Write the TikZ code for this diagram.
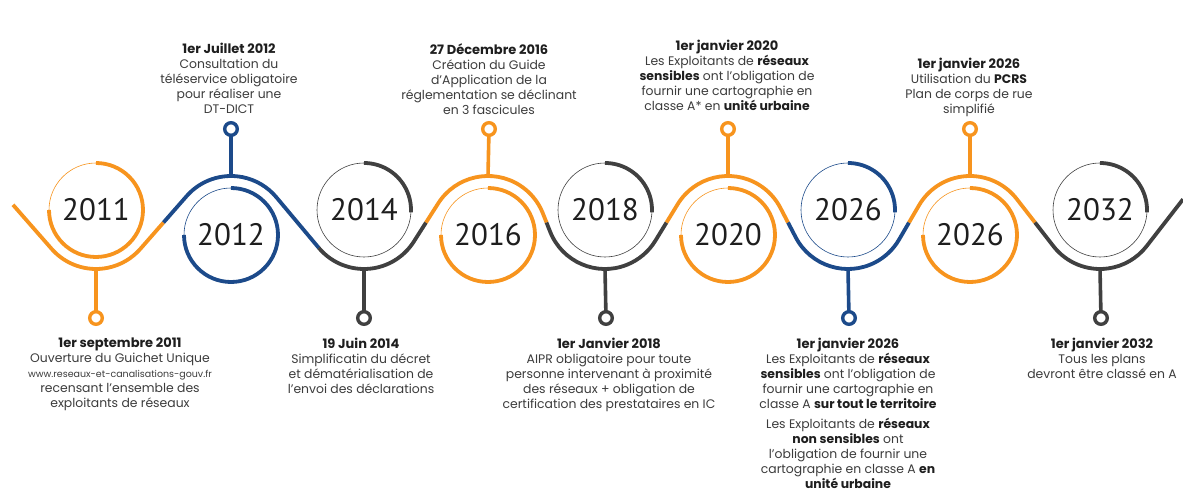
\documentclass[tikz,border=0pt]{standalone}
\usepackage{fontspec}
\setmainfont{Poppins}
\newfontfamily\yearfont{PT Sans}
\usetikzlibrary{calc}
\definecolor{tlorange}{HTML}{F7941E}
\definecolor{tlblue}{HTML}{1C4A8A}
\definecolor{tlgray}{HTML}{404040}
\definecolor{txtdark}{HTML}{1E1E1E}
\definecolor{txtbody}{HTML}{3C3C3C}

\tikzset{
  wave/.style={draw=#1, line width=3.8pt},
  yearring/.style={circle, draw=#1, line width=0.6pt, minimum size=94pt,
    inner sep=0pt, outer sep=0pt, font=\yearfont\fontsize{31}{31}\selectfont, text=txtdark},
  yeararc/.style={draw=#1, line width=3.8pt},
  stem/.style={draw=#1, line width=3.6pt},
  ringnode/.style={circle, draw=#1, fill=white, line width=3.4pt, minimum size=12.6pt,
    inner sep=0pt, outer sep=0pt},
  eventtext/.style={align=center, inner sep=0pt, text=txtbody,
    font=\fontsize{12.4}{15}\selectfont},
}
\newcommand{\ttl}[1]{{\fontsize{13}{15}\selectfont\bfseries\color{txtdark}#1}}
\newcommand{\bld}[1]{{\bfseries\color{txtdark}#1}}

\begin{document}
\begin{tikzpicture}[x=1pt,y=1pt]
\useasboundingbox[fill=white] (0,0) rectangle (1183,493);
\def\R{59}

% centres of the year circles (upper row / lower row)
\coordinate (c1) at (96,283);
\coordinate (c2) at (231,258);
\coordinate (c3) at (364,283);
\coordinate (c4) at (488,258);
\coordinate (c5) at (605,283);
\coordinate (c6) at (728,258);
\coordinate (c7) at (848,283);
\coordinate (c8) at (970,258);
\coordinate (c9) at (1100,283);

% tangent points of the wave on each circle
\coordinate (n1) at ($(c1)+(221.24:\R)$);
\coordinate (n2) at ($(c2)+(138.76:\R)$);
\coordinate (n3) at ($(c3)+(219.96:\R)$);
\coordinate (n4) at ($(c4)+(147.5:\R)$);
\coordinate (n5) at ($(c5)+(201.56:\R)$);
\coordinate (n6) at ($(c6)+(148.6:\R)$);
\coordinate (n7) at ($(c7)+(207.47:\R)$);
\coordinate (n8) at ($(c8)+(149.82:\R)$);
\coordinate (n9) at ($(c9)+(217.82:\R)$);
\coordinate (e9) at ($(c9)+(322.18:\R)$);

% colour changes along the wave
\coordinate (m12) at ($(c1)!0.5!(c2)$);
\coordinate (m34) at ($(c3)!0.5!(c4)$);
\coordinate (m45) at ($(c4)!0.5!(c5)$);
\coordinate (m56) at ($(c5)!0.5!(c6)$);
\coordinate (m67) at ($(c6)!0.5!(c7)$);
\coordinate (m78) at ($(c7)!0.5!(c8)$);
\coordinate (m89) at ($(c8)!0.5!(c9)$);
\coordinate (wstart) at ($(n1)+(131.24:58.6)$);
\coordinate (wend) at ($(e9)+(52.18:59.4)$);

% extreme points of the wave, where the stems leave
\coordinate (w1) at ($(c1)+(0,-\R)$);
\coordinate (w2) at ($(c2)+(0,\R)$);
\coordinate (w3) at ($(c3)+(0,-\R)$);
\coordinate (w4) at ($(c4)+(0,\R)$);
\coordinate (w5) at ($(c5)+(0,-\R)$);
\coordinate (w6) at ($(c6)+(0,\R)$);
\coordinate (w7) at ($(c7)+(0,-\R)$);
\coordinate (w8) at ($(c8)+(0,\R)$);
\coordinate (w9) at ($(c9)+(0,-\R)$);

% the wave
\draw[wave=tlorange] (wstart) -- (n1) arc[start angle=221.24, end angle=318.76, radius=\R] -- (m12);
\draw[wave=tlblue] (m12) -- (n2) arc[start angle=138.76, end angle=39.96, radius=\R] -- (n3);
\draw[wave=tlgray] (n3) arc[start angle=219.96, end angle=327.5, radius=\R] -- (m34);
\draw[wave=tlorange] (m34) -- (n4) arc[start angle=147.5, end angle=21.56, radius=\R] -- (m45);
\draw[wave=tlgray] (m45) -- (n5) arc[start angle=201.56, end angle=328.6, radius=\R] -- (m56);
\draw[wave=tlorange] (m56) -- (n6) arc[start angle=148.6, end angle=27.47, radius=\R] -- (m67);
\draw[wave=tlblue] (m67) -- (n7) arc[start angle=207.47, end angle=329.82, radius=\R] -- (m78);
\draw[wave=tlorange] (m78) -- (n8) arc[start angle=149.82, end angle=37.82, radius=\R] -- (m89);
\draw[wave=tlgray] (m89) -- (n9) arc[start angle=217.82, end angle=322.18, radius=\R] -- (wend);

% year circles
\node[yearring=tlorange] (y1) at (c1) {2011};
\node[yearring=tlblue]   (y2) at (c2) {2012};
\node[yearring=tlgray]   (y3) at (c3) {2014};
\node[yearring=tlorange] (y4) at (c4) {2016};
\node[yearring=tlgray]   (y5) at (c5) {2018};
\node[yearring=tlorange] (y6) at (c6) {2020};
\node[yearring=tlblue]   (y7) at (c7) {2026};
\node[yearring=tlorange] (y8) at (c8) {2026};
\node[yearring=tlgray]   (y9) at (c9) {2032};

\draw[yeararc=tlorange] (y1.north) arc[start angle=90, end angle=-180, radius=47];
\draw[yeararc=tlblue]   (y2.north) arc[start angle=90, end angle=-180, radius=47];
\draw[yeararc=tlgray]   (y3.north) arc[start angle=90, end angle=-3, radius=47];
\draw[yeararc=tlorange] (y4.north) arc[start angle=90, end angle=-180, radius=47];
\draw[yeararc=tlgray]   (y5.north) arc[start angle=90, end angle=-3, radius=47];
\draw[yeararc=tlorange] (y6.north) arc[start angle=90, end angle=-180, radius=47];
\draw[yeararc=tlblue]   (y7.north) arc[start angle=90, end angle=-3, radius=47];
\draw[yeararc=tlorange] (y8.north) arc[start angle=90, end angle=-180, radius=47];
\draw[yeararc=tlgray]   (y9.north) arc[start angle=90, end angle=-3, radius=47];

% stems with their end rings
\node[ringnode=tlorange] (p1) at (96,175) {};
\node[ringnode=tlblue]   (p2) at (231,364) {};
\node[ringnode=tlgray]   (p3) at (364,175) {};
\node[ringnode=tlorange] (p4) at (489,364) {};
\node[ringnode=tlgray]   (p5) at (606,175) {};
\node[ringnode=tlorange] (p6) at (728,364) {};
\node[ringnode=tlblue]   (p7) at (849,175) {};
\node[ringnode=tlorange] (p8) at (970,364) {};
\node[ringnode=tlgray]   (p9) at (1101,175) {};
\draw[stem=tlorange] (w1) -- (p1);
\draw[stem=tlblue]   (w2) -- (p2);
\draw[stem=tlgray]   (w3) -- (p3);
\draw[stem=tlorange] (w4) -- (p4);
\draw[stem=tlgray]   (w5) -- (p5);
\draw[stem=tlorange] (w6) -- (p6);
\draw[stem=tlblue]   (w7) -- (p7);
\draw[stem=tlorange] (w8) -- (p8);
\draw[stem=tlgray]   (w9) -- (p9);

% event texts, lower row
\node[eventtext, anchor=north] (t1) at (120,155) {\ttl{1er septembre 2011}\\
  Ouverture du Guichet Unique\\
  {\fontsize{9.5}{15}\selectfont www.reseaux-et-canalisations-gouv.fr}\\
  recensant l'ensemble des\\ exploitants de réseaux};
\node[eventtext, anchor=north] (t3) at (361,155) {\ttl{19 Juin 2014}\\
  Simplificatin du décret\\ et dématérialisation de\\ l'envoi des déclarations};
\node[eventtext, anchor=north] (t5) at (609,155) {\ttl{1er Janvier 2018}\\
  AIPR obligatoire pour toute\\ personne intervenant à proximité\\
  des réseaux + obligation de\\ certification des prestataires en IC};
\node[eventtext, anchor=north] (t7) at (848,155) {\ttl{1er janvier 2026}\\
  Les Exploitants de \bld{réseaux}\\ \bld{sensibles} ont l'obligation de\\
  fournir une cartographie en\\ classe A \bld{sur tout le territoire}\\[5pt]
  Les Exploitants de \bld{réseaux}\\ \bld{non sensibles} ont\\
  l'obligation de fournir une\\ cartographie en classe A \bld{en}\\ \bld{unité urbaine}};
\node[eventtext, anchor=north] (t9) at (1102,155) {\ttl{1er janvier 2032}\\
  Tous les plans\\ devront être classé en A};

% event texts, upper row
\node[eventtext, anchor=north] (t2) at (229,450) {\ttl{1er Juillet 2012}\\
  Consultation du\\ téléservice obligatoire\\ pour réaliser une\\ DT-DICT};
\node[eventtext, anchor=north] (t4) at (489,450) {\ttl{27 Décembre 2016}\\
  Création du Guide\\ d'Application de la\\ réglementation se déclinant\\ en 3 fascicules};
\node[eventtext, anchor=north] (t6) at (727,453) {\ttl{1er janvier 2020}\\
  Les Exploitants de \bld{réseaux}\\ \bld{sensibles} ont l'obligation de\\
  fournir une cartographie en\\ classe A* en \bld{unité urbaine}};
\node[eventtext, anchor=north] (t8) at (969,435) {\ttl{1er janvier 2026}\\
  Utilisation du \bld{PCRS}\\ Plan de corps de rue\\ simplifié};
\end{tikzpicture}
\end{document}
